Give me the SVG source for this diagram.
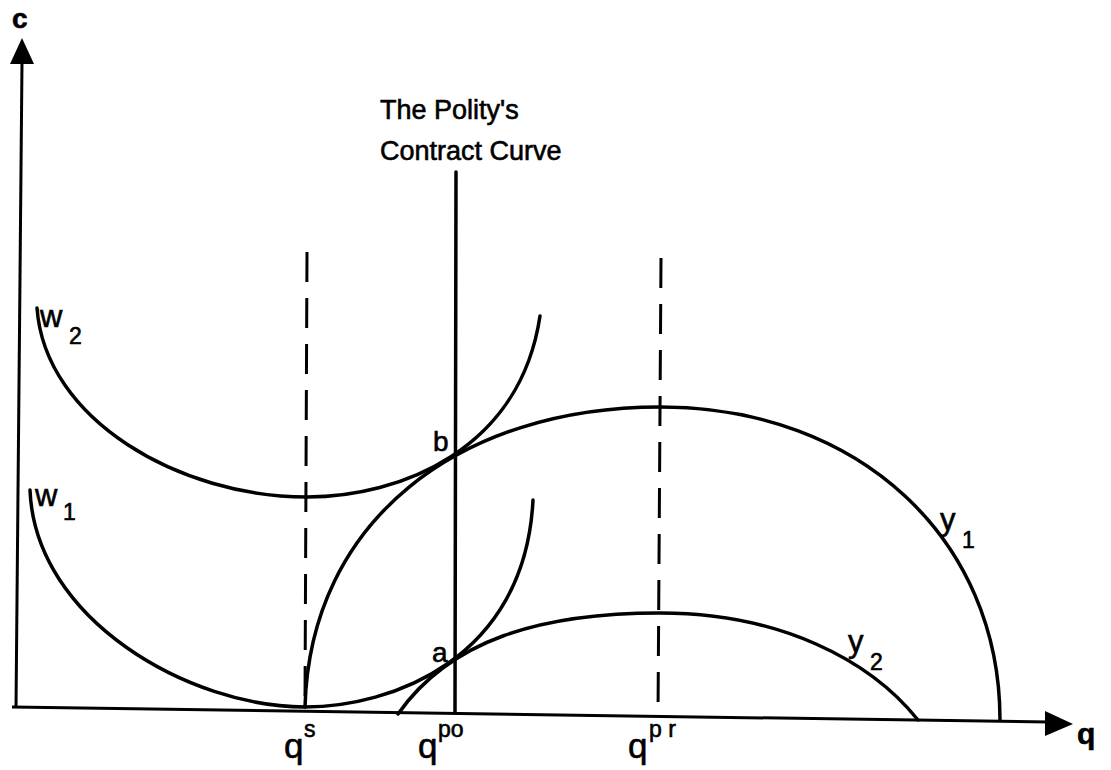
<svg xmlns="http://www.w3.org/2000/svg" width="1111" height="770" viewBox="0 0 1111 770">
<style>
.ax{stroke:#000;stroke-width:3;fill:none}
.cv{stroke:#000;stroke-width:3.5;fill:none;stroke-linecap:round}
.dash{stroke:#000;stroke-width:3;fill:none;stroke-dasharray:30 16}
.t{font-family:"Liberation Sans",Arial,sans-serif;fill:#000;stroke:#000;stroke-width:0.6}
.arrow{fill:#000}
</style>
<rect width="1111" height="770" fill="#fff"/>
<g id="axes">
<line class="ax" x1="22" y1="62" x2="16" y2="708"/>
<line class="ax" x1="12" y1="707" x2="1048" y2="722"/>
<polygon class="arrow" points="22,38 10,64 34,64"/>
<polygon class="arrow" points="1073,724 1045,711 1045,736"/>
<text class="t" x="12" y="28" font-size="28" font-weight="bold">c</text>
<text class="t" x="1077" y="744" font-size="30" font-weight="bold">q</text>
</g>
<g id="connectors">
<line class="dash" x1="307" y1="252" x2="305" y2="700"/>
<line class="dash" x1="661" y1="258" x2="658" y2="716"/>
<line class="cv" x1="456" y1="172" x2="455" y2="713"/>
</g>
<g id="contract-curve-label">
<text class="t" x="380" y="119" font-size="27">The Polity's</text>
<text class="t" x="380" y="160" font-size="27">Contract Curve</text>
</g>
<g id="w2">
<path class="cv" d="M37,308 C45,420 180,497 307,497 C400,497 520,450 540,316"/>
<text class="t" x="40" y="327" font-size="31">w</text>
<text class="t" x="69" y="344" font-size="23">2</text>
</g>
<g id="w1">
<path class="cv" d="M30,490 C35,620 190,707 305,707 C390,707 525,660 533,500"/>
<text class="t" x="35" y="506" font-size="31">w</text>
<text class="t" x="63" y="520" font-size="23">1</text>
</g>
<g id="y1">
<path class="cv" d="M305,707 C310,520 460,407 660,407 C860,407 1000,540 1000,720"/>
<text class="t" x="940" y="530" font-size="31">y</text>
<text class="t" x="962" y="548" font-size="23">1</text>
</g>
<g id="y2">
<path class="cv" d="M398,714 C450,640 540,613 660,613 C780,613 870,660 918,720"/>
<text class="t" x="848" y="652" font-size="31">y</text>
<text class="t" x="870" y="670" font-size="23">2</text>
</g>
<g id="point-b"><text class="t" x="433" y="451" font-size="28">b</text></g>
<g id="point-a"><text class="t" x="432" y="662" font-size="28">a</text></g>
<g id="q-labels">
<text class="t" x="284" y="758" font-size="35">q</text>
<text class="t" x="304" y="737" font-size="23">s</text>
<text class="t" x="418" y="758" font-size="35">q</text>
<text class="t" x="438" y="737" font-size="23">po</text>
<text class="t" x="628" y="758" font-size="35">q</text>
<text class="t" x="649" y="737" font-size="23">p r</text>
</g>
</svg>
